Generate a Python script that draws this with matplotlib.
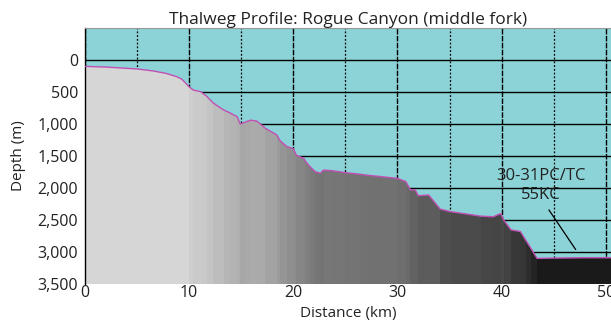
import numpy as np
import matplotlib
matplotlib.use("Agg")
import matplotlib.pyplot as plt
from matplotlib.patches import Polygon
from matplotlib.ticker import FuncFormatter, MultipleLocator

plt.rcParams['font.family'] = ['Open Sans', 'DejaVu Sans']

# thalweg profile along the canyon
distance_km = [0.0, 2.0, 5.0, 6.5, 7.8, 8.8, 9.3, 10.0, 10.4, 11.1, 11.7, 12.3,
               13.3, 13.9, 14.6, 14.9, 15.4, 15.9, 16.5, 17.3, 18.4, 18.75,
               19.4, 20.0, 20.3, 21.0, 21.2, 21.6, 22.1, 22.6, 22.9, 23.75,
               25.0, 26.4, 27.1, 30.0, 30.8, 31.25, 31.7, 32.0, 33.0, 34.1,
               35.1, 38.0, 39.2, 39.9, 40.2, 40.9, 41.8, 42.3, 42.8, 43.4,
               45.0, 48.0, 50.5]
depth_m = [100, 110, 140, 170, 210, 260, 300, 420, 470, 495, 570, 670,
           780, 825, 885, 1000, 970, 940, 955, 1065, 1170, 1265,
           1355, 1385, 1490, 1535, 1590, 1665, 1745, 1770, 1720, 1730,
           1760, 1785, 1800, 1850, 1900, 2030, 2030, 2120, 2110, 2330,
           2370, 2440, 2450, 2400, 2500, 2655, 2680, 2810, 2940, 3100,
           3095, 3090, 3090]

core_label = "30-31PC/TC\n55KC"
core_label_pos = (43.75, 1960)
core_arrow = [(44.55, 2345), (47.1, 2960)]

x_max, y_top, y_bottom = 50.5, -500, 3500

fig = plt.figure(figsize=(6.11, 3.24), dpi=100)
ax = fig.add_axes([0.1391, 0.1235, 0.8609, 0.7901])
ax.set_facecolor('#8bd3d7')

# grid sits on the water colour, the seabed covers it
ax.set_axisbelow(True)
ax.yaxis.set_major_locator(MultipleLocator(500))
ax.xaxis.set_major_locator(MultipleLocator(10))
ax.xaxis.set_minor_locator(MultipleLocator(5))
ax.grid(axis='y', which='major', color='black', linewidth=1.0)
ax.grid(axis='x', which='major', color='black', linewidth=1.0, linestyle=(0, (4, 1)))
ax.grid(axis='x', which='minor', color='black', linewidth=0.9, linestyle=(0, (1.5, 1.5)))

# seabed: grey bands darkening with depth, clipped to the profile
dist = np.array(distance_km)
dep = np.array(depth_m)
verts = list(zip(dist, dep)) + [(dist[-1], y_bottom), (dist[0], y_bottom)]
seabed = Polygon(verts, closed=True, facecolor='none', edgecolor='none')
ax.add_patch(seabed)

gray = np.clip(0.84 - 0.000264 * (dep[:-1] - 300), 0.1, 0.84)
colors = [(g, g, g) for g in gray]
bars = ax.bar(dist[:-1], y_bottom - y_top, width=np.diff(dist), bottom=y_top,
              align='edge', color=colors, linewidth=0, zorder=2)
for b in bars:
    b.set_clip_path(seabed)

ax.plot(dist, dep, color='#c24fb4', linewidth=1.0, zorder=3)

ax.text(core_label_pos[0], core_label_pos[1], core_label, ha='center', va='center',
        fontsize=12, linespacing=1.3, color='#222222', zorder=4)
(x0, y0), (x1, y1) = core_arrow
ax.plot([x0, x1], [y0, y1], color='black', linewidth=0.9, zorder=4)

ax.set_xlim(0, x_max)
ax.set_ylim(y_bottom, y_top)
ax.set_yticks(np.arange(0, 3501, 500))
ax.yaxis.set_major_formatter(FuncFormatter(lambda v, p: f"{int(v):,}"))
ax.tick_params(axis='both', which='both', length=0, labelsize=11.5, pad=5,
               colors='#222222')
ax.tick_params(axis='x', pad=1)

for side in ['right', 'bottom']:
    ax.spines[side].set_visible(False)
ax.spines['top'].set_color('#999999')
ax.spines['left'].set_color('black')
ax.spines['left'].set_linewidth(1.0)

ax.set_title('Thalweg Profile: Rogue Canyon (middle fork)', fontsize=12.5,
             color='#222222', pad=3)
ax.set_xlabel('Distance (km)', fontsize=11, color='#222222', labelpad=3)
ax.set_ylabel('Depth (m)', fontsize=11, color='#222222', labelpad=8)

fig.savefig('out.png', dpi=100)
